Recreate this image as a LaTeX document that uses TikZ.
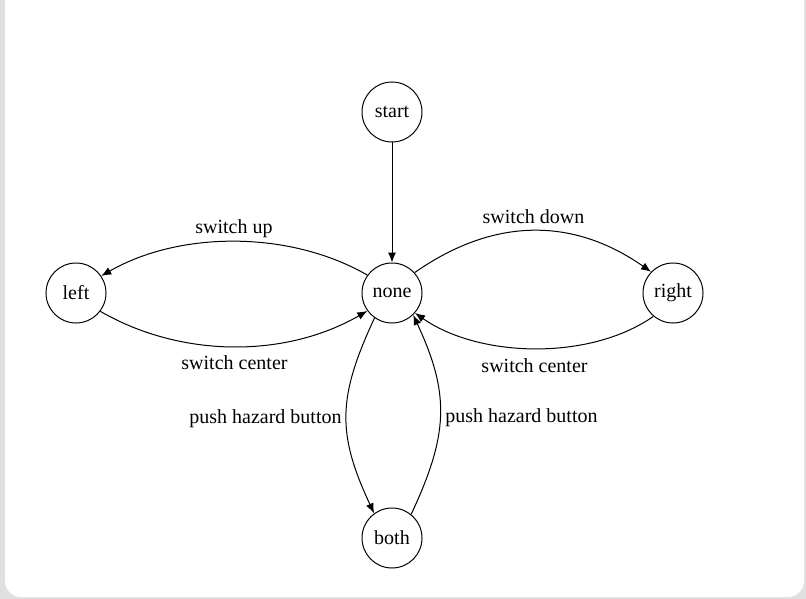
\documentclass[tikz,border=0pt]{standalone}
\usepackage{fontspec}
\setmainfont{Liberation Serif}
\usetikzlibrary{arrows.meta}
\definecolor{bggray}{RGB}{224,224,224}
\begin{document}
\begin{tikzpicture}[x=1pt,y=-1pt,
  state/.style={circle,draw,line width=1pt,minimum size=60pt,inner sep=0pt,font=\fontsize{20}{24}\selectfont},
  lbl/.style={anchor=base,inner sep=0pt,font=\fontsize{20}{24}\selectfont},
  edge/.style={line width=1pt,-{Latex[length=10pt,width=8pt]}}]
\useasboundingbox (0,0) rectangle (806,599);
\fill[bggray] (0,0) rectangle (806,599);
\fill[white,rounded corners=16pt] (5,-20) rectangle (804,597);
\node[state] (start) at (392,112) {start};
\node[state] (none) at (392,293) {none};
\node[state] (left) at (76,293) {left};
\node[state] (right) at (673,293) {right};
\node[state] (both) at (392,538) {both};
\draw[edge] (start) -- (none);
\draw[edge] (none.144) .. controls +(150:90pt) and +(30:90pt) .. (left.34);
\draw[edge] (left.-37) .. controls +(-30:94pt) and +(-150:94pt) .. (none.216);
\draw[edge] (none.42) .. controls +(35:96pt) and +(145:96pt) .. (right.136);
\draw[edge] (right.230) .. controls +(215:78pt) and +(-35:78pt) .. (none.-41);
\draw[edge] (none.235) .. controls +(245:88pt) and +(115:88pt) .. (both.126);
\draw[edge] (both.51) .. controls +(65:88pt) and +(-65:88pt) .. (none.-46);
\node[lbl] (lup) at (234,233) {switch up};
\node[lbl] (lcl) at (234.5,369) {switch center};
\node[lbl] (ldn) at (533.5,223) {switch down};
\node[lbl] (lcr) at (534.5,372) {switch center};
\node[lbl] (lhl) at (265.5,423) {push hazard button};
\node[lbl] (lhr) at (521.5,422) {push hazard button};
\end{tikzpicture}
\end{document}
